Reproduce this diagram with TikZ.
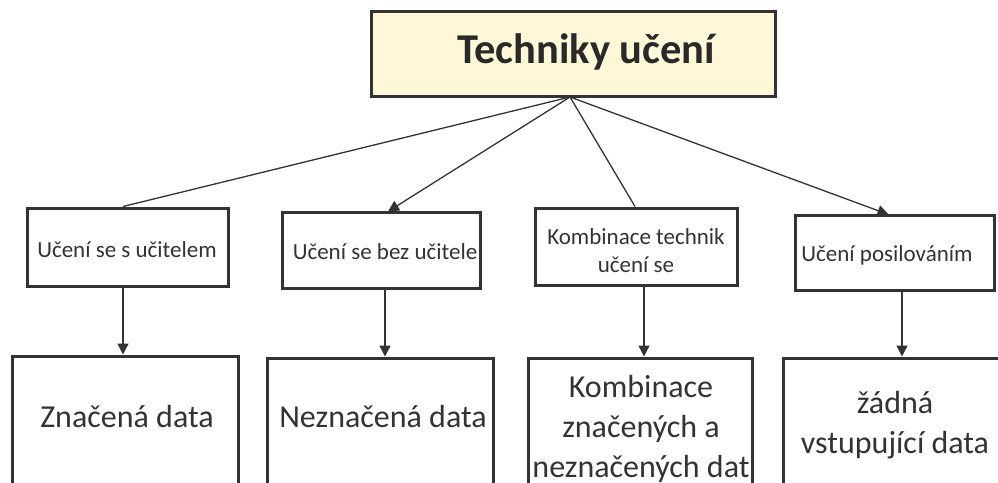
\documentclass[tikz,border=0pt]{standalone}
\usepackage{fontspec}
\setmainfont{Carlito}
\usetikzlibrary{arrows.meta}
\definecolor{ink}{HTML}{333333}
\definecolor{cream}{HTML}{FFF8D8}
\tikzset{
  box/.style={draw=ink, line width=3pt, rectangle, inner sep=0pt, fill=white},
  topbox/.style={box, fill=cream},
  conn/.style={draw=ink, line width=1.3pt},
  arr/.style={conn, -{Triangle[length=11pt,width=11pt]}},
  small/.style={text=ink, font=\fontsize{23}{28}\selectfont, align=center, inner sep=0pt},
  big/.style={text=ink, font=\fontsize{32}{40}\selectfont, align=center, inner sep=0pt},
  title/.style={text=ink!80!black, font=\fontsize{42.5}{50}\selectfont\bfseries, inner sep=0pt}
}
\begin{document}
\begin{tikzpicture}[x=1pt,y=-1pt]
\useasboundingbox (0,0) rectangle (998,482);
\clip (0,0) rectangle (998,482);
% top box
\node[topbox, minimum width=404pt, minimum height=85pt] (top) at (573,53.5) {};
\node[title] (toptext) at (586,52) {Techniky učení};
% second row
\node[box, minimum width=201pt, minimum height=78pt] (b1) at (127.5,247) {};
\node[box, minimum width=198pt, minimum height=76pt] (b2) at (381,250) {};
\node[box, minimum width=202pt, minimum height=77pt] (b3) at (636,246.5) {};
\node[box, minimum width=199pt, minimum height=75pt] (b4) at (894.5,252.5) {};
\node[small] (t1) at (127,250) {Učení se s učitelem};
\node[small] (t2) at (385,252) {Učení se bez učitele};
\node[small] (t3) at (636,251) {Kombinace technik\\učení se};
\node[small] (t4) at (887,255) {Učení posilováním};
% third row
\node[box, minimum width=226pt, minimum height=164pt] (c1) at (125,438) {};
\node[box, minimum width=226pt, minimum height=162pt] (c2) at (380,439) {};
\node[box, minimum width=224pt, minimum height=162pt] (c3) at (640,439) {};
\node[box, minimum width=227pt, minimum height=162pt] (c4) at (896.5,439) {};
\node[big] (u1) at (127,417) {Značená data};
\node[big] (u2) at (383,417) {Neznačená data};
\node[big] (u3) at (641,429) {Kombinace\\značených a\\neznačených dat};
\node[big] (u4) at (895,425) {žádná\\vstupující data};
% connectors from top
\coordinate (apex) at (570,97);
\draw[conn] (apex) -- ([xshift=-4.5pt]b1.north);
\draw[arr] (apex) -- ([xshift=7pt,yshift=-1pt]b2.north);
\draw[conn] (apex) -- ([xshift=-1pt]b3.north);
\draw[arr] (apex) -- ([xshift=-6pt,yshift=-1pt]b4.north);
% down arrows
\draw[arr] ([xshift=-4.5pt]b1.south) -- ([xshift=-4.5pt]b1.south |- c1.north);
\draw[arr] ([xshift=4pt]b2.south) -- ([xshift=4pt]b2.south |- c2.north);
\draw[arr] ([xshift=8pt]b3.south) -- ([xshift=8pt]b3.south |- c3.north);
\draw[arr] ([xshift=7.5pt]b4.south) -- ([xshift=7.5pt]b4.south |- c4.north);
\end{tikzpicture}
\end{document}
